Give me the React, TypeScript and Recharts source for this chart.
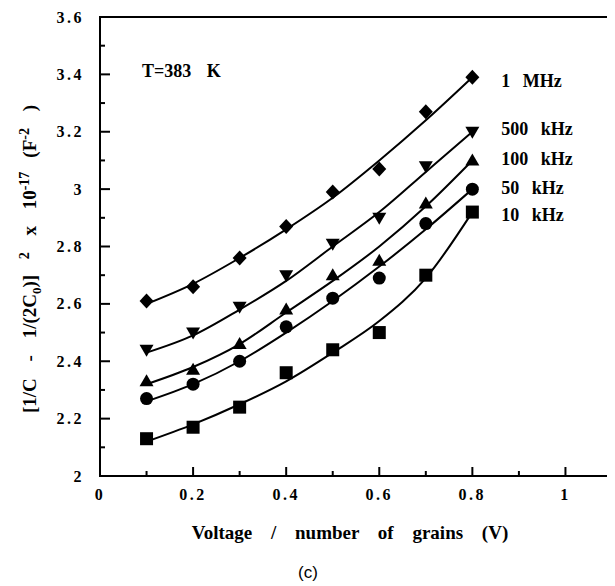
import React from 'react';
import { ComposedChart, Line, XAxis, YAxis, ReferenceArea } from 'recharts';

const VOLTAGE = [0.1, 0.2, 0.3, 0.4, 0.5, 0.6, 0.7, 0.8];
const SERIES_NAMES = ['1 MHz', '500 kHz', '100 kHz', '50 kHz', '10 kHz'];
const MHZ_1 = [2.61, 2.66, 2.76, 2.87, 2.99, 3.07, 3.27, 3.39];
const KHZ_500 = [2.44, 2.5, 2.59, 2.7, 2.81, 2.9, 3.08, 3.2];
const KHZ_100 = [2.33, 2.37, 2.46, 2.58, 2.7, 2.75, 2.95, 3.1];
const KHZ_50 = [2.27, 2.32, 2.4, 2.52, 2.62, 2.69, 2.88, 3.0];
const KHZ_10 = [2.13, 2.17, 2.24, 2.36, 2.44, 2.5, 2.7, 2.92];
const FIT_MHZ_1 = [2.6, 2.67, 2.76, 2.86, 2.97, 3.1, 3.24, 3.39];
const FIT_KHZ_500 = [2.43, 2.49, 2.58, 2.68, 2.8, 2.92, 3.06, 3.2];
const FIT_KHZ_100 = [2.32, 2.38, 2.46, 2.57, 2.68, 2.8, 2.94, 3.1];
const FIT_KHZ_50 = [2.26, 2.32, 2.4, 2.5, 2.61, 2.73, 2.86, 3.0];
const FIT_KHZ_10 = [2.12, 2.18, 2.25, 2.33, 2.43, 2.54, 2.69, 2.92];

const X_DOMAIN = [0, 1.1];
const Y_DOMAIN = [2, 3.6];
const X_TICKS = [0, 0.1, 0.2, 0.3, 0.4, 0.5, 0.6, 0.7, 0.8, 0.9, 1, 1.1];
const X_LABELED = [0, 0.2, 0.4, 0.6, 0.8, 1];
const Y_TICKS = [2, 2.1, 2.2, 2.3, 2.4, 2.5, 2.6, 2.7, 2.8, 2.9, 3, 3.1, 3.2, 3.3, 3.4, 3.5, 3.6];
const Y_LABELED = [2, 2.2, 2.4, 2.6, 2.8, 3, 3.2, 3.4, 3.6];

const KEYS = ['m1', 'k500', 'k100', 'k50', 'k10'];
const POINTS = [MHZ_1, KHZ_500, KHZ_100, KHZ_50, KHZ_10];
const FITS = [FIT_MHZ_1, FIT_KHZ_500, FIT_KHZ_100, FIT_KHZ_50, FIT_KHZ_10];

const rows = VOLTAGE.map((x, i) => {
  const r: any = { x };
  KEYS.forEach((k, s) => {
    r[k] = POINTS[s][i];
    r['fit_' + k] = FITS[s][i];
  });
  return r;
});

const SERIF = "'Liberation Serif', 'Times New Roman', serif";
const SHAPES = ['diamond', 'down', 'up', 'circle', 'square'];
const LABEL_DY = [3.5, -2.5, -1, -1, 3];

const isIn = (arr: number[], v: number) => arr.some((t) => Math.abs(t - v) < 1e-9);

const makeDot = (s: number) => (props: any) => {
  const { cx, cy, index } = props;
  if (cx == null || cy == null) return <g key={`d${s}-${index}`} />;
  const shape = SHAPES[s];
  let mark: any;
  if (shape === 'diamond') {
    mark = <path d={`M${cx},${cy - 7.5}L${cx + 7},${cy}L${cx},${cy + 7.5}L${cx - 7},${cy}Z`} fill="#000" />;
  } else if (shape === 'down') {
    mark = <path d={`M${cx - 7},${cy - 5}L${cx + 7},${cy - 5}L${cx},${cy + 7}Z`} fill="#000" />;
  } else if (shape === 'up') {
    mark = <path d={`M${cx - 7},${cy + 5}L${cx + 7},${cy + 5}L${cx},${cy - 7}Z`} fill="#000" />;
  } else if (shape === 'circle') {
    mark = <circle cx={cx} cy={cy} r={6.5} fill="#000" />;
  } else {
    mark = <rect x={cx - 6.5} y={cy - 6.5} width={13} height={13} fill="#000" />;
  }
  const last = index === VOLTAGE.length - 1;
  return (
    <g key={`d${s}-${index}`}>
      {mark}
      {last && (
        <text
          x={cx + 29}
          y={cy + LABEL_DY[s]}
          dominantBaseline="central"
          fontFamily={SERIF}
          fontWeight="bold"
          fontSize={18}
          wordSpacing={8}
          fill="#000"
          style={{ whiteSpace: 'pre' }}
        >
          {SERIES_NAMES[s]}
        </text>
      )}
    </g>
  );
};

const TICK_STROKE = { stroke: '#000', strokeWidth: 2 };

const BottomTick = (props: any) => {
  const { x, y, payload } = props;
  const v = payload.value;
  const major = isIn(X_LABELED, v);
  return (
    <g>
      <path d={`M${x},${y}V${y - (major ? 9 : 5)}`} {...TICK_STROKE} />
      {major && (
        <text x={x} y={y + 24} textAnchor="middle" fontFamily={SERIF} fontWeight="bold" fontSize={16} letterSpacing={2.5} fill="#000">
          {String(v)}
        </text>
      )}
    </g>
  );
};

const TopTick = (props: any) => {
  const { x, y, payload } = props;
  const major = isIn(X_LABELED, payload.value);
  return <path d={`M${x},${y}V${y + (major ? 8 : 7)}`} {...TICK_STROKE} />;
};

const LeftTick = (props: any) => {
  const { x, y, payload } = props;
  const v = payload.value;
  const major = isIn(Y_LABELED, v);
  return (
    <g>
      <path d={`M${x},${y}H${x + (major ? 10 : 5)}`} {...TICK_STROKE} />
      {major && (
        <text x={x - 16} y={y + 5.5} textAnchor="end" fontFamily={SERIF} fontWeight="bold" fontSize={16} letterSpacing={2.5} fill="#000">
          {String(v)}
        </text>
      )}
    </g>
  );
};

const RightTick = (props: any) => {
  const { x, y, payload } = props;
  const major = isIn(Y_LABELED, payload.value);
  return <path d={`M${x},${y}H${x - (major ? 8 : 6)}`} {...TICK_STROKE} />;
};

export default function App() {
  return (
    <div style={{ position: 'relative', width: 607, height: 578, fontFamily: SERIF, color: '#000' }}>
      <ComposedChart width={607} height={578} data={rows} margin={{ top: 9, right: 3, left: 32, bottom: 80 }}>
        <XAxis
          xAxisId="b"
          dataKey="x"
          type="number"
          domain={X_DOMAIN}
          ticks={X_TICKS}
          interval={0}
          height={30}
          tickSize={0}
          tickMargin={0}
          tickLine={false}
          axisLine={false}
          tick={<BottomTick />}
          allowDataOverflow
        />
        <XAxis
          xAxisId="t"
          dataKey="x"
          type="number"
          orientation="top"
          domain={X_DOMAIN}
          ticks={X_TICKS}
          interval={0}
          height={0}
          tickSize={0}
          tickMargin={0}
          tickLine={false}
          axisLine={false}
          tick={<TopTick />}
          allowDataOverflow
        />
        <YAxis
          yAxisId="l"
          type="number"
          domain={Y_DOMAIN}
          ticks={Y_TICKS}
          interval={0}
          width={60}
          tickSize={0}
          tickMargin={0}
          tickLine={false}
          axisLine={false}
          tick={<LeftTick />}
          allowDataOverflow
        />
        <YAxis
          yAxisId="r"
          orientation="right"
          type="number"
          domain={Y_DOMAIN}
          ticks={Y_TICKS}
          interval={0}
          width={0}
          tickSize={0}
          tickMargin={0}
          tickLine={false}
          axisLine={false}
          tick={<RightTick />}
          allowDataOverflow
        />
        <ReferenceArea
          xAxisId="b"
          yAxisId="l"
          x1={X_DOMAIN[0]}
          x2={X_DOMAIN[1]}
          y1={Y_DOMAIN[0]}
          y2={Y_DOMAIN[1]}
          fill="none"
          fillOpacity={0}
          stroke="#000"
          strokeOpacity={1}
          strokeWidth={2}
          ifOverflow="visible"
        />
        {KEYS.map((k) => (
          <Line
            key={'fit_' + k}
            xAxisId="b"
            yAxisId="l"
            type="monotone"
            dataKey={'fit_' + k}
            stroke="#000"
            strokeWidth={2}
            dot={false}
            activeDot={false}
            isAnimationActive={false}
          />
        ))}
        {KEYS.map((k, s) => (
          <Line
            key={k}
            xAxisId="b"
            yAxisId="l"
            dataKey={k}
            stroke="none"
            dot={makeDot(s)}
            activeDot={false}
            isAnimationActive={false}
          />
        ))}
      </ComposedChart>

      <div
        style={{
          position: 'absolute',
          left: 134,
          top: 52,
          fontSize: 18,
          fontWeight: 'bold',
          lineHeight: '22px',
          whiteSpace: 'pre',
          wordSpacing: 11,
        }}
      >
        T=383 K
      </div>

      <div
        style={{
          position: 'absolute',
          left: 342,
          top: 525,
          transform: 'translate(-50%, -50%)',
          fontSize: 19,
          fontWeight: 'bold',
          whiteSpace: 'nowrap',
          wordSpacing: 14,
          lineHeight: '22px',
        }}
      >
        Voltage / number of grains (V)
      </div>

      <div
        style={{
          position: 'absolute',
          left: 22,
          top: 251,
          transform: 'translate(-50%, -50%) rotate(-90deg)',
          fontSize: 19,
          fontWeight: 'bold',
          whiteSpace: 'nowrap',
          wordSpacing: 12,
          lineHeight: '22px',
        }}
      >
        [1/C - 1/(2C<sub style={{ fontSize: 13, lineHeight: 0 }}>0</sub>)]<sup style={{ fontSize: 14, lineHeight: 0 }}> 2</sup> x 10
        <sup style={{ fontSize: 14, lineHeight: 0 }}>-17</sup>
        <span style={{ marginLeft: 14 }}>(F</span>
        <sup style={{ fontSize: 14, lineHeight: 0 }}>-2</sup> )
      </div>

      <div
        style={{
          position: 'absolute',
          left: 300,
          top: 565,
          transform: 'translate(-50%, -50%)',
          fontFamily: "'Liberation Sans', Arial, sans-serif",
          fontSize: 17,
          lineHeight: '20px',
        }}
      >
        (c)
      </div>
    </div>
  );
}
